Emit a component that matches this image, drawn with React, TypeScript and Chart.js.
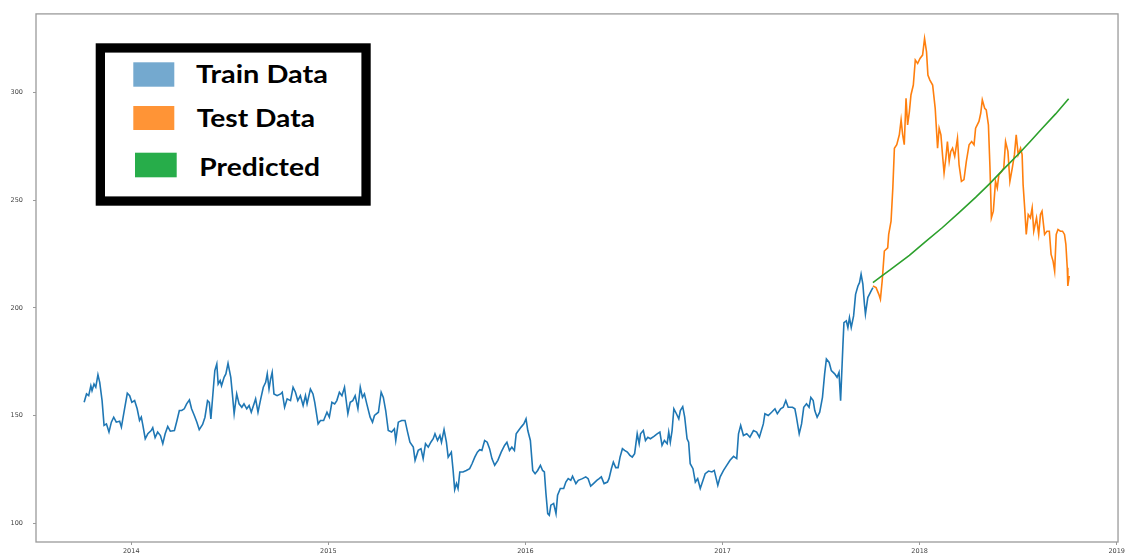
import React, { useEffect, useRef } from "react";
import { Chart, registerables } from "chart.js";

Chart.register(...registerables);

// ---------------- data (decimal years / price) ----------------
const trainDates = [
  2013.761, 2013.773, 2013.784, 2013.795, 2013.801, 2013.811, 2013.820, 2013.831, 2013.840, 2013.852,
  2013.862, 2013.874, 2013.887, 2013.899, 2013.911, 2013.924, 2013.941, 2013.950, 2013.966, 2013.980,
  2013.992, 2014.003, 2014.017, 2014.030, 2014.042, 2014.051, 2014.059, 2014.071, 2014.084, 2014.101,
  2014.109, 2014.121, 2014.134, 2014.148, 2014.160, 2014.172, 2014.185, 2014.198, 2014.219, 2014.232,
  2014.244, 2014.256, 2014.269, 2014.281, 2014.295, 2014.306, 2014.320, 2014.333, 2014.345, 2014.362,
  2014.374, 2014.387, 2014.396, 2014.404, 2014.417, 2014.424, 2014.434, 2014.441, 2014.451, 2014.458,
  2014.471, 2014.480, 2014.491, 2014.505, 2014.513, 2014.522, 2014.535, 2014.547, 2014.561, 2014.572,
  2014.586, 2014.598, 2014.609, 2014.623, 2014.631, 2014.643, 2014.657, 2014.670, 2014.682, 2014.690,
  2014.699, 2014.707, 2014.715, 2014.724, 2014.740, 2014.758, 2014.766, 2014.778, 2014.791, 2014.808,
  2014.821, 2014.833, 2014.845, 2014.858, 2014.872, 2014.884, 2014.892, 2014.909, 2014.922,
  2014.931, 2014.948, 2014.960, 2014.976, 2014.993, 2015.005, 2015.018, 2015.032, 2015.043, 2015.056,
  2015.069, 2015.082, 2015.099, 2015.111, 2015.124, 2015.136, 2015.150, 2015.162, 2015.173, 2015.183,
  2015.195, 2015.212, 2015.224, 2015.234, 2015.254, 2015.268, 2015.279, 2015.291, 2015.304, 2015.321,
  2015.335, 2015.342, 2015.355, 2015.372, 2015.389, 2015.402, 2015.414, 2015.431, 2015.440, 2015.456,
  2015.470, 2015.481, 2015.493, 2015.507, 2015.520, 2015.532, 2015.541, 2015.554, 2015.566, 2015.574,
  2015.587, 2015.599, 2015.608, 2015.624, 2015.633, 2015.641, 2015.650, 2015.658, 2015.667, 2015.683,
  2015.700, 2015.717, 2015.729, 2015.743, 2015.756, 2015.768, 2015.779, 2015.793, 2015.806, 2015.818,
  2015.830, 2015.844, 2015.860, 2015.877, 2015.894, 2015.906, 2015.919, 2015.931, 2015.944,
  2015.953, 2015.965, 2015.978, 2015.992, 2016.003, 2016.012, 2016.025, 2016.037, 2016.049, 2016.062,
  2016.076, 2016.087, 2016.096, 2016.104, 2016.113, 2016.121, 2016.129, 2016.143, 2016.155, 2016.163,
  2016.177, 2016.194, 2016.205, 2016.217, 2016.230, 2016.239, 2016.256, 2016.268, 2016.289, 2016.306,
  2016.318, 2016.331, 2016.345, 2016.362, 2016.374, 2016.385, 2016.399, 2016.416, 2016.424, 2016.436,
  2016.446, 2016.458, 2016.470, 2016.480, 2016.492, 2016.503, 2016.517, 2016.530, 2016.542, 2016.554,
  2016.567, 2016.577, 2016.584, 2016.598, 2016.609, 2016.621, 2016.634, 2016.652, 2016.668, 2016.682,
  2016.693, 2016.705, 2016.719, 2016.727, 2016.735, 2016.744, 2016.753, 2016.766, 2016.778, 2016.786,
  2016.798, 2016.808, 2016.820, 2016.828, 2016.836, 2016.850, 2016.862, 2016.874, 2016.887, 2016.901,
  2016.912, 2016.929, 2016.946, 2016.958, 2016.968, 2016.976, 2016.988, 2017.005, 2017.018,
  2017.038, 2017.056, 2017.072, 2017.081, 2017.092, 2017.106, 2017.123, 2017.139, 2017.157, 2017.173,
  2017.187, 2017.207, 2017.215, 2017.232, 2017.249, 2017.266, 2017.278, 2017.295, 2017.308, 2017.321,
  2017.333, 2017.355, 2017.367, 2017.375, 2017.389, 2017.401, 2017.412, 2017.426, 2017.439, 2017.448,
  2017.460, 2017.468, 2017.480, 2017.493, 2017.507, 2017.518, 2017.527, 2017.541, 2017.552, 2017.569,
  2017.581, 2017.591, 2017.599, 2017.604, 2017.611, 2017.616, 2017.628, 2017.636, 2017.644, 2017.653,
  2017.665, 2017.675, 2017.687, 2017.695, 2017.703, 2017.712, 2017.720, 2017.725, 2017.737, 2017.754,
  2017.763,
];

const trainValues = [
  156.2, 160.1, 159.3, 163.9, 161.6, 164.7, 163.2, 169.0, 165.5, 157.0,
  145.5, 146.2, 142.4, 147.0, 149.3, 147.0, 147.4, 144.7, 153.2, 160.4,
  159.3, 156.2, 157.0, 153.2, 147.8, 149.3, 145.5, 139.3, 141.6, 143.1,
  144.4, 139.8, 142.4, 140.8, 137.0, 141.6, 145.0, 142.8, 143.1, 147.8,
  152.4, 152.4, 153.2, 155.5, 157.3, 153.2, 150.1, 147.0, 143.5, 145.9,
  149.3, 157.0, 156.2, 148.5, 163.2, 170.9, 174.0, 164.7, 166.3, 163.9,
  167.8, 169.4, 174.3, 167.8, 160.1, 150.9, 160.1, 155.5, 153.9, 155.5,
  153.2, 154.7, 151.6, 155.5, 157.8, 151.6, 157.8, 163.2, 165.5, 169.4,
  162.4, 167.0, 170.1, 160.1, 159.3, 160.1, 160.9, 153.9, 157.8, 157.0,
  163.2, 160.9, 157.0, 159.3, 154.7, 159.3, 155.5, 162.4, 160.1,
  156.2, 146.2, 147.8, 147.8, 151.6, 149.3, 156.2, 155.5, 157.0, 160.9,
  159.3, 163.2, 150.9, 156.2, 157.0, 159.3, 153.2, 163.2, 158.5, 160.1,
  155.5, 149.3, 147.0, 150.1, 151.6, 160.9, 158.5, 152.4, 143.1, 142.4,
  143.9, 138.5, 147.0, 147.8, 147.8, 142.4, 137.7, 135.4, 129.3, 133.9,
  134.7, 130.1, 137.0, 135.4, 137.7, 139.3, 141.6, 138.5, 140.8, 137.7,
  143.5, 137.7, 130.8, 133.1, 124.6, 115.7, 118.5, 116.2, 123.9, 123.9,
  124.6, 125.4, 127.7, 130.8, 133.1, 134.2, 133.9, 138.5, 137.7, 134.7,
  130.1, 127.0, 129.3, 133.1, 136.2, 137.7, 133.9, 135.4, 133.9,
  141.6, 143.1, 144.7, 146.2, 148.5, 143.1, 138.5, 124.6, 123.1, 124.6,
  127.0, 124.6, 123.9, 113.9, 104.6, 103.8, 108.5, 109.3, 104.6, 113.1,
  116.2, 116.2, 119.2, 120.8, 120.0, 121.9, 118.5, 120.0, 120.8, 121.6,
  120.8, 117.3, 118.5, 120.0, 120.8, 121.6, 118.5, 119.2, 120.8, 125.4,
  128.5, 125.9, 125.9, 130.8, 134.7, 133.9, 133.1, 131.6, 130.8, 132.4,
  141.6, 137.0, 141.6, 143.1, 138.5, 140.0, 139.3, 140.4, 141.6, 142.4,
  136.2, 138.5, 137.0, 142.4, 137.7, 143.1, 153.2, 150.9, 148.5, 152.4,
  154.2, 149.3, 139.3, 137.7, 127.7, 125.4, 119.2, 120.8, 116.2, 120.0,
  123.1, 124.3, 123.9, 124.6, 120.8, 117.7, 121.6, 124.6, 126.5,
  129.3, 131.1, 130.1, 141.6, 145.5, 140.8, 141.6, 140.0, 143.1, 142.4,
  140.0, 146.2, 150.9, 150.1, 151.6, 153.2, 150.9, 153.2, 153.9, 157.0,
  153.9, 153.9, 153.2, 149.3, 141.6, 146.2, 153.9, 155.5, 153.9, 158.5,
  157.0, 152.4, 149.3, 151.6, 158.5, 169.4, 176.3, 174.7, 170.9, 169.4,
  167.8, 170.1, 157.0, 167.8, 183.2, 193.2, 194.0, 190.9, 195.5, 190.9,
  196.3, 206.3, 210.2, 211.7, 215.6, 211.0, 201.7, 197.1, 204.8, 207.9,
  209.4,
];

const testDates = [
  2017.763, 2017.779, 2017.793, 2017.801, 2017.810, 2017.821, 2017.838, 2017.843, 2017.855, 2017.864,
  2017.872, 2017.884, 2017.897, 2017.906, 2017.914, 2017.922, 2017.931, 2017.939, 2017.948, 2017.956,
  2017.968, 2017.978, 2017.990, 2018.002, 2018.015, 2018.025, 2018.035, 2018.042, 2018.052, 2018.066,
  2018.079, 2018.091, 2018.099, 2018.108, 2018.116, 2018.124, 2018.133, 2018.141, 2018.150, 2018.158,
  2018.167, 2018.178, 2018.192, 2018.200, 2018.212, 2018.225, 2018.237, 2018.251, 2018.264, 2018.276,
  2018.284, 2018.301, 2018.310, 2018.318, 2018.330, 2018.338, 2018.349, 2018.357, 2018.364, 2018.374,
  2018.385, 2018.394, 2018.402, 2018.416, 2018.427, 2018.436, 2018.448, 2018.458, 2018.470, 2018.481,
  2018.490, 2018.500, 2018.512, 2018.520, 2018.525, 2018.533, 2018.541, 2018.551, 2018.562, 2018.571,
  2018.579, 2018.593, 2018.604, 2018.613, 2018.621, 2018.634, 2018.646, 2018.658, 2018.667, 2018.677,
  2018.685, 2018.693, 2018.702, 2018.714, 2018.725, 2018.735, 2018.742, 2018.749, 2018.752, 2018.759,
];

const testValues = [
  210.2, 209.4, 206.3, 204.0, 212.5, 226.4, 227.9, 234.1, 240.2, 255.6,
  274.1, 275.7, 280.3, 287.2, 280.3, 275.7, 297.2, 284.9, 291.1, 298.8,
  303.4, 315.0, 313.4, 315.7, 317.3, 325.0, 318.8, 308.0, 305.7, 303.4,
  292.6, 274.1, 283.4, 280.3, 271.1, 262.6, 269.5, 277.2, 268.0, 272.6,
  274.1, 270.3, 278.7, 266.4, 258.7, 259.5, 268.0, 275.7, 277.2, 275.7,
  283.4, 286.5, 290.3, 296.5, 292.6, 291.9, 284.9, 264.9, 241.8, 244.9,
  258.7, 255.6, 261.8, 263.3, 264.9, 277.2, 272.6, 258.7, 264.9, 271.1,
  280.3, 271.1, 274.1, 271.1, 257.2, 246.4, 234.1, 243.3, 241.8, 246.4,
  235.6, 241.8, 234.1, 243.3, 244.9, 234.1, 235.6, 235.6, 224.8, 221.7,
  217.1, 234.1, 236.4, 235.6, 235.6, 234.1, 229.5, 218.6, 210.2, 214.8,
];

const predDates = [
  2017.763, 2017.800, 2017.850, 2017.948, 2018.030, 2018.116, 2018.200, 2018.284,
  2018.357, 2018.420, 2018.502, 2018.560, 2018.621, 2018.690, 2018.756,
];
const predValues = [
  211.7, 214.3, 217.6, 224.4, 230.8, 237.3, 244.2, 251.3,
  257.8, 263.8, 271.4, 277.1, 283.2, 290.0, 297.0,
];

const xTickYears = [2014, 2015, 2016, 2017, 2018, 2019];
const yTickValues = [100, 150, 200, 250, 300];

const seriesLabels = ["Train Data", "Test Data", "Predicted"];
const lineColors = ["#1f77b4", "#ff7f0e", "#2ca02c"];
const legendSwatchColors = ["#74a9cf", "#ff9436", "#27ad4a"];

// ---------------------------------------------------------------

const toPoints = (xs: number[], ys: number[]) =>
  xs.slice(0, Math.min(xs.length, ys.length)).map((x, i) => ({ x, y: ys[i] }));

const W = 1127;
const H = 556;

const framePlugin = {
  id: "frame",
  afterDatasetsDraw(chart: any) {
    const { ctx, chartArea } = chart;
    const { left, top, right, bottom } = chartArea;
    ctx.save();
    ctx.strokeStyle = "#9a9a9a";
    ctx.lineWidth = 1.3;
    ctx.strokeRect(left, top, right - left, bottom - top);
    ctx.restore();
  },
};

const tickFont = { family: "'DejaVu Sans', sans-serif", size: 6.5 };

export default function App() {
  const canvasRef = useRef<HTMLCanvasElement | null>(null);

  useEffect(() => {
    if (!canvasRef.current) return;
    const chart = new Chart(canvasRef.current, {
      type: "line",
      data: {
        datasets: [
          {
            label: seriesLabels[0],
            data: toPoints(trainDates, trainValues),
            borderColor: lineColors[0],
            borderWidth: 1.6,
            pointRadius: 0,
            tension: 0,
            order: 3,
          },
          {
            label: seriesLabels[1],
            data: toPoints(testDates, testValues),
            borderColor: lineColors[1],
            borderWidth: 1.6,
            pointRadius: 0,
            tension: 0,
            order: 2,
          },
          {
            label: seriesLabels[2],
            data: toPoints(predDates, predValues),
            borderColor: lineColors[2],
            borderWidth: 1.6,
            pointRadius: 0,
            tension: 0,
            order: 1,
          },
        ],
      },
      options: {
        responsive: false,
        animation: false,
        events: [],
        layout: { padding: { top: 12, right: 4, left: 0, bottom: 0 }, autoPadding: false },
        plugins: { legend: { display: false }, tooltip: { enabled: false } },
        scales: {
          x: {
            type: "linear",
            min: 2013.5167,
            max: 2019.0066,
            afterBuildTicks: (s: any) => {
              s.ticks = xTickYears.map((v) => ({ value: v }));
            },
            afterFit: (s: any) => {
              s.height = 14;
            },
            grid: { display: true, drawOnChartArea: false, drawTicks: true, tickLength: 3, color: "#9a9a9a" },
            border: { display: false },
            ticks: {
              font: tickFont,
              color: "#444",
              padding: 2,
              maxRotation: 0,
              autoSkip: false,
              callback: (v: any) => String(v),
            },
          },
          y: {
            type: "linear",
            min: 91.4,
            max: 336.4,
            afterBuildTicks: (s: any) => {
              s.ticks = yTickValues.map((v) => ({ value: v }));
            },
            afterFit: (s: any) => {
              s.width = 36;
            },
            grid: { display: true, drawOnChartArea: false, drawTicks: true, tickLength: 3, color: "#9a9a9a" },
            border: { display: false },
            ticks: {
              font: tickFont,
              color: "#444",
              padding: 10,
              autoSkip: false,
              callback: (v: any) => String(v),
            },
          },
        },
      },
      plugins: [framePlugin],
    } as any);
    return () => chart.destroy();
  }, []);

  const swatches = [
    { x: 133.3, y: 62.3, w: 41, h: 24.4 },
    { x: 133.3, y: 106, w: 41, h: 24 },
    { x: 135, y: 152.7, w: 41.7, h: 24.6 },
  ];
  const texts = [
    { x: 196, y: 82.7, len: 132 },
    { x: 196.7, y: 126.7, len: 118.3 },
    { x: 199.3, y: 175.7, len: 120.7 },
  ];

  return (
    <div style={{ position: "fixed", left: 0, top: 0, width: W, height: H, background: "#fff" }}>
      <canvas ref={canvasRef} width={W} height={H} style={{ width: W, height: H, display: "block" }} />
      <svg
        width={W}
        height={H}
        style={{ position: "absolute", left: 0, top: 0, pointerEvents: "none" }}
      >
        <rect x={100.35} y={47.95} width={265.7} height={153.1} fill="#fff" stroke="#000" strokeWidth={9.3} />
        {seriesLabels.map((lab, i) => (
          <g key={lab}>
            <rect
              x={swatches[i].x}
              y={swatches[i].y}
              width={swatches[i].w}
              height={swatches[i].h}
              fill={legendSwatchColors[i]}
            />
            <text
              x={texts[i].x}
              y={texts[i].y}
              textLength={texts[i].len}
              lengthAdjust="spacingAndGlyphs"
              style={{ fontFamily: "Lato, 'Open Sans', sans-serif", fontWeight: 700, fontSize: 25, fill: "#000" }}
            >
              {lab}
            </text>
          </g>
        ))}
      </svg>
    </div>
  );
}
